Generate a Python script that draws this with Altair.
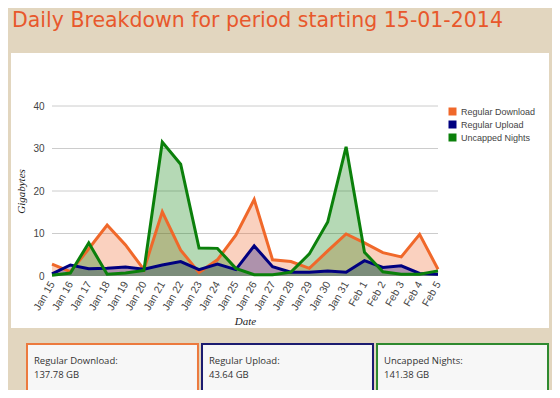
import altair as alt
import pandas as pd

# ---- data ----
dates = ["Jan 15", "Jan 16", "Jan 17", "Jan 18", "Jan 19", "Jan 20", "Jan 21", "Jan 22",
         "Jan 23", "Jan 24", "Jan 25", "Jan 26", "Jan 27", "Jan 28", "Jan 29", "Jan 30",
         "Jan 31", "Feb 1", "Feb 2", "Feb 3", "Feb 4", "Feb 5"]
download = [2.8, 1.0, 6.4, 12.0, 7.3, 1.5, 15.1, 6.1, 0.8, 3.8, 9.6, 18.0,
            3.8, 3.4, 1.8, 5.9, 9.9, 7.8, 5.5, 4.5, 9.8, 1.6]
upload = [0.5, 2.6, 1.7, 1.8, 2.1, 1.6, 2.6, 3.4, 1.5, 2.8, 1.5, 7.1,
          2.2, 0.9, 0.9, 1.2, 0.9, 3.6, 2.0, 2.4, 0.6, 0.4]
uncapped = [0.2, 0.7, 7.8, 0.4, 0.7, 1.3, 31.5, 26.3, 6.6, 6.5, 1.8, 0.3,
            0.3, 0.9, 5.2, 12.7, 30.4, 5.6, 1.0, 0.4, 0.4, 1.2]
y_ticks = [0, 10, 20, 30, 40]
series = ["Regular Download", "Regular Upload", "Uncapped Nights"]
totals = ["137.78 GB", "43.64 GB", "141.38 GB"]
colors = ["#f0682a", "#000080", "#0b800b"]
box_colors = ["#ec7a3e", "#1c1c70", "#2f8a2f"]
title_text = "Daily Breakdown for period starting 15-01-2014"

rows = []
for name, vals in zip(series, [download, upload, uncapped]):
    for d, v in zip(dates, vals):
        rows.append({"Date": d, "Gigabytes": v, "Series": name})
df = pd.DataFrame(rows)
boxes = pd.DataFrame({"Series": series, "Total": totals,
                      "Label": [s + ":" for s in series]})
grid_df = pd.DataFrame({"Gigabytes": y_ticks[1:]})

W, H = 386, 170

x_enc = alt.X("Date:N", sort=dates,
              scale=alt.Scale(type="point", padding=0),
              axis=alt.Axis(labelAngle=-60, labelFontSize=10.5, labelColor="#444444",
                            labelFont="Liberation Sans", ticks=False, domain=False,
                            grid=False, labelPadding=6, zindex=1,
                            title="Date", titleFont="Liberation Serif", titleFontStyle="italic",
                            titleFontWeight="normal", titleFontSize=11, titleColor="#222222",
                            titlePadding=3))
y_scale = alt.Scale(domain=[0, 40], nice=False)
y_enc = alt.Y("Gigabytes:Q", scale=y_scale, stack=None,
              axis=alt.Axis(values=y_ticks, labelFontSize=10, labelColor="#444444",
                            labelFont="Liberation Sans", ticks=False, domain=False,
                            grid=False, labelPadding=8, zindex=1,
                            title="Gigabytes", titleFont="Liberation Serif",
                            titleFontStyle="italic", titleFontWeight="normal",
                            titleFontSize=11, titleColor="#222222", titlePadding=6))
color_enc = alt.Color("Series:N", sort=series,
                      scale=alt.Scale(domain=series, range=colors),
                      legend=alt.Legend(title=None, orient="none", legendX=396, legendY=1,
                                        symbolType="square", symbolSize=64,
                                        symbolOpacity=1, symbolStrokeWidth=0,
                                        labelFont="Liberation Sans", labelFontSize=9,
                                        labelColor="#444444", rowPadding=3))

panel = alt.Chart(pd.DataFrame({"p": [0]})).mark_rect(color="white").encode(
    x=alt.value(-41), x2=alt.value(497), y=alt.value(-53), y2=alt.value(222))

grid = alt.Chart(grid_df).mark_rule(color="#cccccc", strokeWidth=1).encode(
    y=alt.Y("Gigabytes:Q", scale=y_scale))

title = alt.Chart(pd.DataFrame({"t": [title_text]})).mark_text(
    align="left", baseline="alphabetic", fontSize=20.5, font="DejaVu Sans",
    color="#e8582c").encode(text="t:N", x=alt.value(-40), y=alt.value(-79))

areas = alt.Chart(df).mark_area(fillOpacity=0.3).encode(
    x=x_enc, y=y_enc, color=color_enc, detail="Series:N")
lines = alt.Chart(df).mark_line(strokeWidth=3).encode(
    x=x_enc, y=y_enc, color=color_enc)

bscale = alt.Scale(type="band", domain=series, range=[-25, 496],
                   paddingInner=0.023, paddingOuter=0)
rects = alt.Chart(boxes).mark_rect(fill="#f7f7f7", strokeWidth=2).encode(
    x=alt.X("Series:N", sort=series, axis=None, scale=bscale),
    y=alt.value(238), y2=alt.value(285),
    stroke=alt.Stroke("Series:N", scale=alt.Scale(domain=series, range=box_colors), legend=None))
lab1 = alt.Chart(boxes).mark_text(align="left", baseline="alphabetic", dx=7, fontSize=9.5,
                                  font="Open Sans", color="#333333").encode(
    x=alt.X("Series:N", sort=series, axis=None, bandPosition=0, scale=bscale),
    y=alt.value(258), text="Label:N")
lab2 = alt.Chart(boxes).mark_text(align="left", baseline="alphabetic", dx=7, fontSize=9.5,
                                  font="Open Sans", color="#333333").encode(
    x=alt.X("Series:N", sort=series, axis=None, bandPosition=0, scale=bscale),
    y=alt.value(272), text="Total:N")

main = alt.layer(panel, grid, areas, lines)
bottom = alt.layer(rects, lab1, lab2)

chart = alt.layer(main, bottom, title).resolve_scale(x="independent").properties(
    width=W, height=H,
    autosize=alt.AutoSizeParams(type="none"),
    padding={"left": 44, "top": 98, "right": 114, "bottom": 114},
).configure(background="#e2d6bf").configure_view(stroke=None)

chart.save("out.html", embed_options={"renderer": "svg", "actions": False})
